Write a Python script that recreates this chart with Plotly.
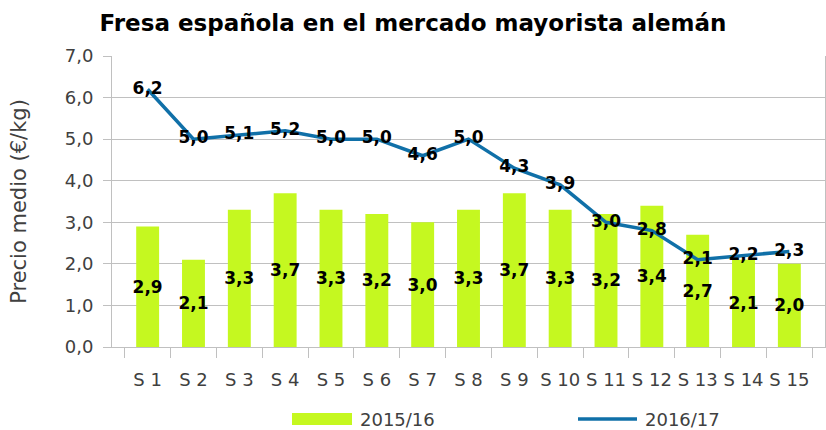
import plotly.graph_objects as go

categories = ["S 1", "S 2", "S 3", "S 4", "S 5", "S 6", "S 7", "S 8", "S 9", "S 10",
              "S 11", "S 12", "S 13", "S 14", "S 15"]
series_2015_16 = [2.9, 2.1, 3.3, 3.7, 3.3, 3.2, 3.0, 3.3, 3.7, 3.3, 3.2, 3.4, 2.7, 2.1, 2.0]
series_2016_17 = [6.2, 5.0, 5.1, 5.2, 5.0, 5.0, 4.6, 5.0, 4.3, 3.9, 3.0, 2.8, 2.1, 2.2, 2.3]
name_a = "2015/16"
name_b = "2016/17"
y_ticks = [0, 1, 2, 3, 4, 5, 6, 7]

FONT = "DejaVu Sans"
BAR_COLOR = "#C5F820"
LINE_COLOR = "#1070A8"
GRID = "#C0C0C0"
TXT = "#404040"

def fmt(v):
    return f"{v:.1f}".replace(".", ",")

fig = go.Figure()
fig.add_trace(go.Bar(
    x=categories, y=series_2015_16, name=name_a,
    marker=dict(color=BAR_COLOR, line=dict(width=0)),
    text=[fmt(v) for v in series_2015_16],
    textposition="inside", insidetextanchor="middle",
    constraintext="none", textangle=0,
    insidetextfont=dict(family=FONT, size=17, color="black", weight="bold"),
    showlegend=False,
))
fig.add_trace(go.Scatter(
    x=categories, y=series_2016_17, name=name_b,
    mode="lines+text",
    line=dict(color=LINE_COLOR, width=3.5),
    text=[fmt(v) for v in series_2016_17],
    textposition="middle center",
    textfont=dict(family=FONT, size=17, color="black", weight="bold"),
    showlegend=False,
))

# custom legend
fig.add_shape(type="rect", xref="paper", yref="paper",
              x0=(292 - 112) / 713, x1=(352 - 112) / 713,
              y0=-(413 - 347) / 291, y1=-(425 - 347) / 291,
              fillcolor=BAR_COLOR, line=dict(width=0))
fig.add_shape(type="line", xref="paper", yref="paper",
              x0=(578 - 112) / 713, x1=(637 - 112) / 713,
              y0=-(419 - 347) / 291, y1=-(419 - 347) / 291,
              line=dict(color=LINE_COLOR, width=3.5))
fig.add_annotation(xref="paper", yref="paper", x=(358 - 112) / 713, y=-(419 - 347) / 291,
                   text=name_a, showarrow=False, xanchor="left", yanchor="middle",
                   font=dict(family=FONT, size=18, color=TXT))
fig.add_annotation(xref="paper", yref="paper", x=(643 - 112) / 713, y=-(419 - 347) / 291,
                   text=name_b, showarrow=False, xanchor="left", yanchor="middle",
                   font=dict(family=FONT, size=18, color=TXT))

fig.update_layout(
    width=826, height=430,
    margin=dict(l=112, r=1, t=56, b=83),
    paper_bgcolor="white", plot_bgcolor="white",
    separators=",.",
    bargap=0.5,
    title=dict(text="<b>Fresa española en el mercado mayorista alemán</b>",
               x=0.5, xanchor="center", y=1 - 23 / 430, yanchor="middle",
               font=dict(family=FONT, size=23, color="black")),
    xaxis=dict(
        type="category", showgrid=False,
        showline=True, linecolor=GRID, linewidth=1,
        ticks="outside", tickson="boundaries", ticklen=10, tickcolor=GRID,
        tickangle=0, ticklabelstandoff=16,
        tickfont=dict(family=FONT, size=18, color=TXT),
    ),
    yaxis=dict(
        range=[0, 7], tickvals=y_ticks, tickformat=".1f",
        showgrid=True, gridcolor=GRID, gridwidth=1,
        showline=True, linecolor=GRID, linewidth=1, mirror=True,
        ticks="outside", ticklen=8, tickcolor=GRID,
        ticklabelstandoff=6,
        tickfont=dict(family=FONT, size=18, color=TXT),
        zeroline=False,
        title=dict(text="Precio medio (€/kg)", standoff=32,
                   font=dict(family=FONT, size=21, color=TXT)),
    ),
)

fig.write_html("out.html")
